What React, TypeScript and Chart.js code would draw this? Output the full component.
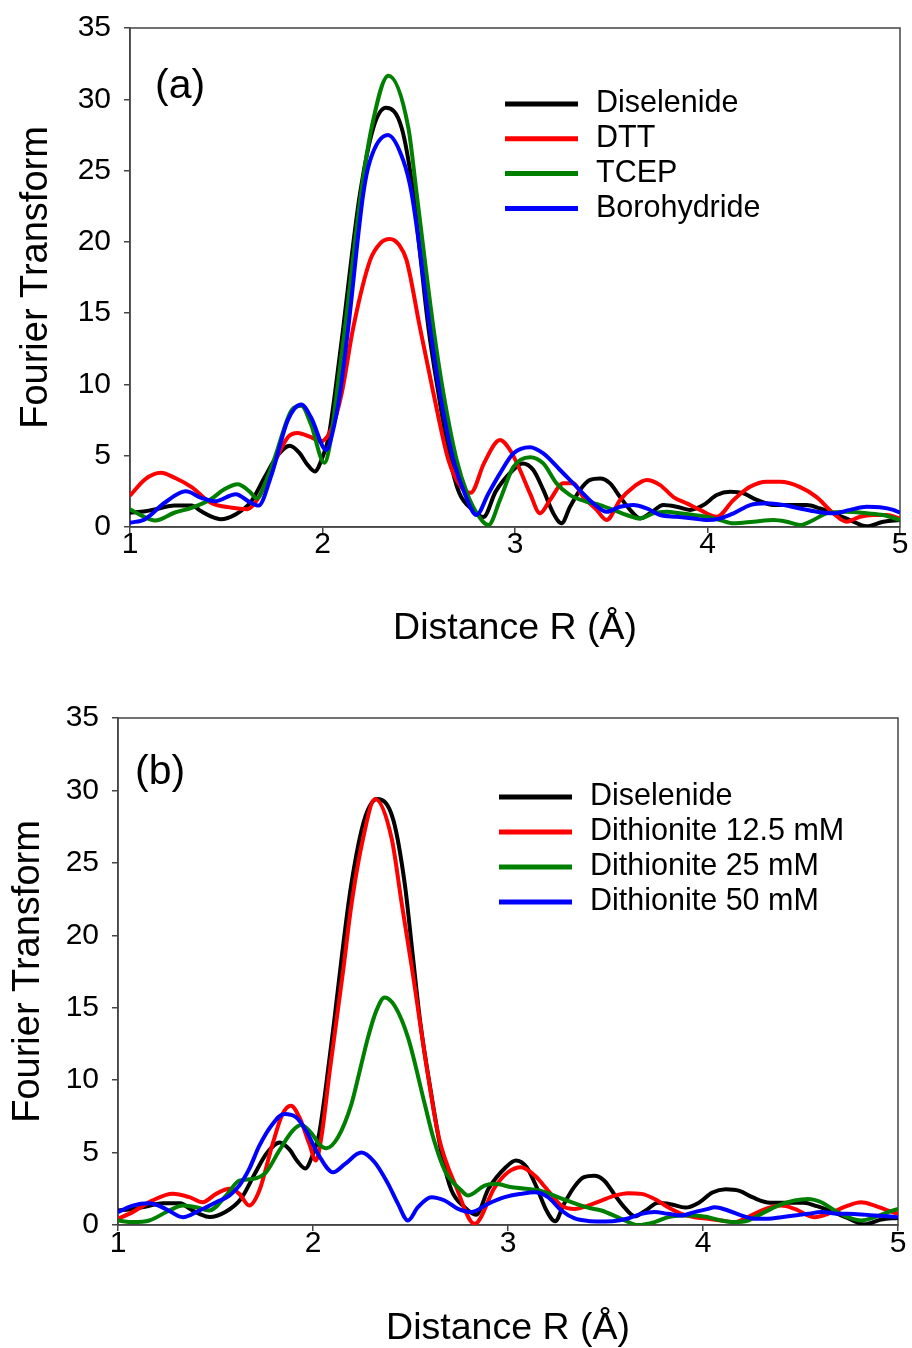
import React, { useEffect, useRef } from "react";
import { Chart, registerables } from "chart.js";

Chart.register(...registerables);

// ---------- tick values ----------
const xTickValues = [1, 2, 3, 4, 5];
const yTickValues = [0, 5, 10, 15, 20, 25, 30, 35];

// ---------- series: [R (Å), Fourier transform magnitude] ----------
const diselenide: number[][] = [
  [1.0, 1.0], [1.08, 1.1], [1.15, 1.3], [1.23, 1.5], [1.32, 1.5], [1.37, 1.1], [1.42, 0.75], [1.47, 0.55],
  [1.55, 0.9], [1.63, 1.8], [1.7, 3.5], [1.76, 4.9], [1.83, 5.7], [1.88, 5.2], [1.92, 4.4], [1.96, 3.9],
  [2.0, 4.9], [2.03, 6.2], [2.065, 9.4], [2.108, 14], [2.15, 18.8], [2.195, 23.4], [2.264, 28], [2.33, 29.4],
  [2.411, 28], [2.472, 23.4], [2.51, 18.8], [2.55, 14], [2.602, 9.4], [2.663, 4.7], [2.71, 2.4], [2.78, 1.2],
  [2.836, 0.7], [2.9, 2.5], [2.99, 4.0], [3.04, 4.46], [3.095, 4.0], [3.147, 2.6], [3.199, 0.96], [3.242, 0.26],
  [3.286, 1.42], [3.338, 2.6], [3.39, 3.3], [3.442, 3.4], [3.494, 3.06], [3.546, 2.1], [3.598, 1.2], [3.65, 0.6],
  [3.702, 0.96], [3.771, 1.54], [3.84, 1.42], [3.909, 1.2], [3.979, 1.54], [4.048, 2.24], [4.117, 2.47], [4.187, 2.36],
  [4.256, 1.9], [4.343, 1.54], [4.429, 1.54], [4.515, 1.54], [4.584, 1.3], [4.654, 0.96], [4.74, 0.49], [4.827, 0.05],
  [4.913, 0.37], [5.0, 0.49],
];

const dtt: number[][] = [
  [1.0, 2.2], [1.08, 3.36], [1.16, 3.8], [1.24, 3.4], [1.32, 2.8], [1.42, 1.7], [1.53, 1.35], [1.61, 1.25],
  [1.67, 2.1], [1.74, 4.2], [1.82, 6.3], [1.87, 6.6], [1.94, 6.3], [1.99, 6.0], [2.05, 7.0], [2.1, 9.4],
  [2.16, 14], [2.247, 18.7], [2.3, 19.9], [2.35, 20.2], [2.4, 19.75], [2.437, 18.7], [2.506, 14], [2.576, 9.4],
  [2.654, 4.7], [2.72, 2.8], [2.77, 2.4], [2.84, 4.5], [2.922, 6.1], [2.974, 5.4], [3.026, 4.0], [3.078, 2.36],
  [3.13, 0.96], [3.182, 1.9], [3.251, 3.06], [3.303, 3.06], [3.355, 2.1], [3.424, 1.2], [3.476, 0.49], [3.546, 1.9],
  [3.615, 2.8], [3.684, 3.3], [3.754, 2.94], [3.823, 2.1], [3.892, 1.66], [3.961, 1.2], [4.048, 0.72], [4.135, 1.9],
  [4.221, 2.82], [4.308, 3.17], [4.377, 3.17], [4.481, 2.8], [4.567, 2.1], [4.654, 0.96], [4.723, 0.37], [4.792, 0.72],
  [4.861, 0.84], [4.931, 0.84], [5.0, 0.6],
];

const tcep: number[][] = [
  [1.0, 1.25], [1.06, 0.8], [1.13, 0.45], [1.23, 1.0], [1.32, 1.35], [1.42, 1.95], [1.49, 2.65], [1.56, 3.0],
  [1.62, 2.5], [1.66, 2.0], [1.7, 3.0], [1.753, 4.9], [1.84, 8.2], [1.89, 8.5], [1.94, 7.2], [2.01, 4.5],
  [2.04, 5.9], [2.074, 9.4], [2.117, 14], [2.2, 23.4], [2.255, 28], [2.342, 31.65], [2.446, 28], [2.489, 23.4],
  [2.576, 14], [2.628, 9.4], [2.697, 4.7], [2.75, 2.4], [2.8, 1.0], [2.862, 0.14], [2.922, 1.9], [2.991, 4.2],
  [3.078, 4.9], [3.147, 4.46], [3.216, 3.06], [3.286, 2.24], [3.372, 1.77], [3.442, 1.54], [3.511, 1.2], [3.58, 0.84],
  [3.65, 0.6], [3.719, 0.96], [3.788, 1.07], [3.857, 0.96], [3.927, 0.84], [3.996, 0.72], [4.065, 0.49], [4.135, 0.26],
  [4.239, 0.37], [4.343, 0.49], [4.411, 0.37], [4.481, 0.14], [4.55, 0.49], [4.619, 0.96], [4.723, 1.07], [4.827, 0.96],
  [4.913, 0.84], [5.0, 0.49],
];

const borohydride: number[][] = [
  [1.0, 0.3], [1.078, 0.55], [1.18, 1.7], [1.29, 2.5], [1.37, 2.05], [1.44, 1.8], [1.55, 2.3], [1.615, 1.8],
  [1.667, 1.5], [1.736, 3.7], [1.82, 7.5], [1.89, 8.6], [1.94, 7.7], [2.02, 5.4], [2.05, 6.5], [2.091, 9.4],
  [2.134, 14], [2.212, 23.4], [2.247, 25.7], [2.34, 27.5], [2.42, 25.7], [2.463, 23.4], [2.558, 14], [2.61, 9.4],
  [2.68, 4.7], [2.74, 2.3], [2.8, 0.85], [2.86, 2.3], [2.922, 3.76], [2.991, 5.16], [3.078, 5.6], [3.147, 5.16],
  [3.234, 4.0], [3.32, 2.82], [3.407, 1.66], [3.476, 1.07], [3.546, 1.42], [3.615, 1.54], [3.684, 1.3], [3.754, 0.84],
  [3.84, 0.72], [3.927, 0.6], [3.996, 0.49], [4.065, 0.6], [4.135, 0.96], [4.221, 1.54], [4.308, 1.66], [4.394, 1.54],
  [4.481, 1.3], [4.567, 1.07], [4.654, 0.96], [4.74, 1.2], [4.827, 1.42], [4.896, 1.38], [4.965, 1.2], [5.0, 1.0],
];

const dithionite125: number[][] = [
  [1.0, 0.43], [1.075, 0.89], [1.178, 1.7], [1.28, 2.15], [1.366, 1.92], [1.434, 1.57], [1.503, 2.15], [1.571, 2.5],
  [1.622, 2.15], [1.673, 1.34], [1.725, 2.38], [1.793, 5.6], [1.844, 7.67], [1.887, 8.24], [1.93, 7.44], [1.981, 5.6],
  [2.015, 4.45], [2.043, 6.06], [2.086, 10.65], [2.154, 17.5], [2.197, 22.1], [2.257, 26.7], [2.318, 29.4], [2.403, 26.7],
  [2.456, 22.1], [2.51, 17.5], [2.586, 10.65], [2.645, 6.06], [2.735, 2.6], [2.829, 0.08], [2.932, 2.6], [3.0, 3.64],
  [3.068, 3.99], [3.137, 3.41], [3.205, 2.38], [3.274, 1.34], [3.342, 1.11], [3.41, 1.34], [3.479, 1.69], [3.547, 2.03],
  [3.615, 2.2], [3.684, 2.15], [3.752, 1.8], [3.821, 1.23], [3.889, 0.77], [3.957, 0.54], [4.026, 0.43], [4.094, 0.31],
  [4.162, 0.2], [4.231, 0.54], [4.299, 1.0], [4.402, 1.34], [4.47, 1.11], [4.573, 0.54], [4.641, 0.77], [4.743, 1.34],
  [4.81, 1.57], [4.88, 1.34], [4.95, 1.0], [5.0, 0.77],
];

const dithionite25: number[][] = [
  [1.0, 0.31], [1.075, 0.2], [1.16, 0.31], [1.263, 1.0], [1.332, 1.34], [1.4, 1.23], [1.468, 1.0], [1.554, 2.03],
  [1.622, 3.07], [1.69, 3.18], [1.759, 3.64], [1.827, 5.14], [1.896, 6.52], [1.94, 6.9], [2.0, 6.2], [2.03, 5.6],
  [2.068, 5.3], [2.128, 6.06], [2.197, 8.35], [2.24, 10.65], [2.282, 12.95], [2.325, 14.8], [2.367, 15.7], [2.42, 15.1],
  [2.487, 12.95], [2.573, 8.35], [2.616, 6.06], [2.676, 3.76], [2.761, 2.38], [2.795, 2.03], [2.88, 2.72], [2.932, 2.84],
  [3.02, 2.6], [3.16, 2.38], [3.3, 1.7], [3.41, 1.2], [3.479, 1.0], [3.581, 0.43], [3.667, 0.0], [3.752, 0.2],
  [3.821, 0.54], [3.889, 0.66], [3.957, 0.66], [4.026, 0.54], [4.094, 0.31], [4.162, 0.2], [4.231, 0.31], [4.299, 0.77],
  [4.385, 1.34], [4.47, 1.69], [4.538, 1.8], [4.607, 1.57], [4.675, 1.0], [4.743, 0.54], [4.812, 0.31], [4.88, 0.54],
  [4.949, 0.89], [5.0, 1.11],
];

const dithionite50: number[][] = [
  [1.0, 0.89], [1.075, 1.34], [1.16, 1.5], [1.246, 1.1], [1.332, 0.54], [1.417, 1.0], [1.503, 1.57], [1.571, 2.03],
  [1.622, 2.72], [1.673, 3.87], [1.725, 5.48], [1.793, 6.98], [1.853, 7.67], [1.913, 7.44], [1.964, 6.52], [2.026, 4.9],
  [2.103, 3.64], [2.163, 4.2], [2.248, 5.0], [2.316, 4.33], [2.385, 2.84], [2.436, 1.46], [2.487, 0.31], [2.538, 1.23],
  [2.607, 1.92], [2.675, 1.69], [2.744, 1.11], [2.812, 0.89], [2.897, 1.46], [2.983, 1.92], [3.068, 2.15], [3.137, 2.26],
  [3.205, 1.92], [3.274, 1.0], [3.342, 0.45], [3.41, 0.28], [3.479, 0.25], [3.547, 0.28], [3.615, 0.45], [3.684, 0.77],
  [3.752, 0.89], [3.821, 0.77], [3.889, 0.66], [3.957, 0.89], [4.026, 1.11], [4.06, 1.23], [4.128, 1.0], [4.196, 0.66],
  [4.265, 0.43], [4.333, 0.43], [4.402, 0.54], [4.47, 0.66], [4.538, 0.77], [4.607, 0.89], [4.675, 0.8], [4.743, 0.77],
  [4.812, 0.72], [4.88, 0.66], [4.949, 0.6], [5.0, 0.54],
];

const seriesA = [diselenide, dtt, tcep, borohydride];
const labelsA = ["Diselenide", "DTT", "TCEP", "Borohydride"];
const seriesB = [diselenide, dithionite125, dithionite25, dithionite50];
const labelsB = ["Diselenide", "Dithionite 12.5 mM", "Dithionite 25 mM", "Dithionite 50 mM"];
const seriesColors = ["#000000", "#ff0000", "#008000", "#0000ff"];

const xTitle = "Distance R (Å)";
const yTitle = "Fourier Transform";

// ---------- layout ----------
const FONT = '"Liberation Sans", Arial, Helvetica, sans-serif';
const AXIS_COLOR = "#444444";

type PanelLayout = {
  top: number;
  height: number;
  plotTop: number;
  plotBottom: number;
  yAxisWidth: number;
  rightPad: number;
  xTickPad: number;
  yTickPad: number;
  xTitlePad: number;
  yTitlePad: number;
  tag: string;
  tagX: number;
  tagY: number;
  legendX: number;
  legendY: number;
  legendDy: number;
  legendFont: number;
};

const layoutA: PanelLayout = {
  top: 0, height: 670, plotTop: 27, plotBottom: 527, yAxisWidth: 130, rightPad: 12,
  xTickPad: -3, yTickPad: 13, xTitlePad: 23, yTitlePad: 18,
  tag: "(a)", tagX: 155, tagY: 98, legendX: 505, legendY: 104, legendDy: 34.8, legendFont: 30.5,
};

const layoutB: PanelLayout = {
  top: 690, height: 658, plotTop: 27, plotBottom: 535, yAxisWidth: 118, rightPad: 14,
  xTickPad: -2, yTickPad: 13, xTitlePad: 1, yTitlePad: 10,
  tag: "(b)", tagX: 135, tagY: 94, legendX: 499, legendY: 107, legendDy: 35, legendFont: 30.5,
};

const decorPlugin = {
  id: "decor",
  beforeDatasetsDraw(chart: any) {
    const { ctx, chartArea: a } = chart;
    ctx.save();
    ctx.strokeStyle = AXIS_COLOR;
    ctx.lineWidth = 1.5;
    ctx.strokeRect(a.left, a.top, a.right - a.left, a.bottom - a.top);
    ctx.restore();
  },
  afterDraw(chart: any, _args: any, opts: any) {
    const { ctx } = chart;
    ctx.save();
    ctx.fillStyle = "#000";
    ctx.font = `41px ${FONT}`;
    ctx.textBaseline = "alphabetic";
    ctx.textAlign = "left";
    ctx.fillText(opts.tag, opts.tagX, opts.tagY);
    chart.data.datasets.forEach((ds: any, i: number) => {
      const y = opts.legendY + i * opts.legendDy;
      ctx.strokeStyle = ds.borderColor;
      ctx.lineWidth = 5;
      ctx.lineCap = "butt";
      ctx.beginPath();
      ctx.moveTo(opts.legendX, y);
      ctx.lineTo(opts.legendX + 73, y);
      ctx.stroke();
      ctx.fillStyle = "#000";
      ctx.font = `${opts.legendFont}px ${FONT}`;
      ctx.textBaseline = "middle";
      ctx.fillText(ds.label, opts.legendX + 91, y);
    });
    ctx.restore();
  },
};

function Panel({ layout, series, labels }: { layout: PanelLayout; series: number[][][]; labels: string[] }) {
  const ref = useRef<HTMLCanvasElement | null>(null);

  useEffect(() => {
    if (!ref.current) return;
    const datasets = series.map((s, i) => ({
      label: labels[i],
      data: s.map((p) => ({ x: p[0], y: p[1] })),
      borderColor: seriesColors[i],
      backgroundColor: seriesColors[i],
      borderWidth: 4,
      pointRadius: 0,
      fill: false,
      cubicInterpolationMode: "monotone" as const,
      order: series.length - i,
    }));

    const chart = new Chart(ref.current, {
      type: "line",
      data: { datasets },
      plugins: [decorPlugin],
      options: {
        animation: false,
        responsive: false,
        devicePixelRatio: 1,
        layout: { padding: { top: layout.plotTop, right: layout.rightPad, left: 0, bottom: 0 } },
        plugins: {
          legend: { display: false },
          tooltip: { enabled: false },
          decor: {
            tag: layout.tag, tagX: layout.tagX, tagY: layout.tagY,
            legendX: layout.legendX, legendY: layout.legendY, legendDy: layout.legendDy,
            legendFont: layout.legendFont,
          },
        } as any,
        scales: {
          x: {
            type: "linear",
            min: 1,
            max: 5,
            afterBuildTicks: (s: any) => {
              s.ticks = xTickValues.map((v) => ({ value: v }));
            },
            afterFit: (s: any) => {
              s.height = layout.height - layout.plotBottom;
            },
            ticks: {
              autoSkip: false,
              maxRotation: 0,
              color: "#000",
              padding: layout.xTickPad,
              font: { family: FONT, size: 30, lineHeight: 1 },
              callback: (v: any) => String(v),
            },
            grid: { drawOnChartArea: false, drawTicks: true, tickLength: 6, color: AXIS_COLOR, lineWidth: 1.5 },
            border: { display: true, color: AXIS_COLOR, width: 1.5 },
            title: {
              display: true,
              text: xTitle,
              color: "#000",
              font: { family: FONT, size: 37.5, lineHeight: 1 },
              padding: { top: 0, bottom: layout.xTitlePad },
            },
          },
          y: {
            type: "linear",
            min: 0,
            max: 35,
            afterBuildTicks: (s: any) => {
              s.ticks = yTickValues.map((v) => ({ value: v }));
            },
            afterFit: (s: any) => {
              s.width = layout.yAxisWidth;
            },
            ticks: {
              autoSkip: false,
              color: "#000",
              padding: layout.yTickPad,
              font: { family: FONT, size: 30, lineHeight: 1 },
              callback: (v: any) => String(v),
            },
            grid: { drawOnChartArea: false, drawTicks: true, tickLength: 6, color: AXIS_COLOR, lineWidth: 1.5 },
            border: { display: true, color: AXIS_COLOR, width: 1.5 },
            title: {
              display: true,
              text: yTitle,
              color: "#000",
              font: { family: FONT, size: 38, lineHeight: 1 },
              padding: { top: layout.yTitlePad, bottom: 0 },
            },
          },
        },
      } as any,
    });
    return () => chart.destroy();
  }, [layout, series, labels]);

  return (
    <canvas
      ref={ref}
      width={912}
      height={layout.height}
      style={{ position: "absolute", left: 0, top: layout.top, width: 912, height: layout.height, display: "block" }}
    />
  );
}

export default function App() {
  return (
    <div
      style={{
        position: "absolute",
        left: 0,
        top: 0,
        width: 912,
        height: 1348,
        overflow: "hidden",
        background: "#ffffff",
      }}
    >
      <Panel layout={layoutA} series={seriesA} labels={labelsA} />
      <Panel layout={layoutB} series={seriesB} labels={labelsB} />
    </div>
  );
}
